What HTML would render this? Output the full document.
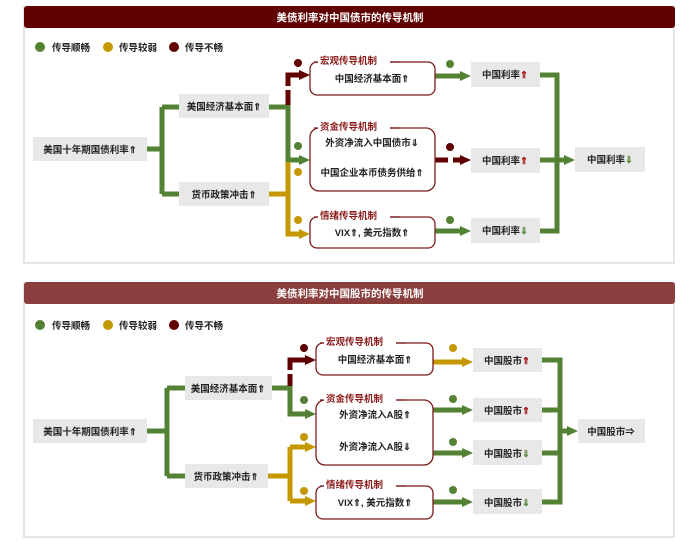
<!DOCTYPE html>
<html><head><meta charset="utf-8"><style>
body{margin:0;background:#fff}
svg text{font-family:"Liberation Sans","Noto Sans CJK SC",sans-serif;font-size:9.5px;font-weight:bold;fill:#222}
</style></head><body>
<svg width="700" height="541" viewBox="0 0 700 541" xmlns="http://www.w3.org/2000/svg">
<defs>
<marker id="ag" markerWidth="12" markerHeight="10" refX="3" refY="5" orient="auto" markerUnits="userSpaceOnUse"><path d="M0,0L11,5L0,10z" fill="#548235"/></marker>
<marker id="ay" markerWidth="12" markerHeight="10" refX="3" refY="5" orient="auto" markerUnits="userSpaceOnUse"><path d="M0,0L11,5L0,10z" fill="#c49800"/></marker>
<marker id="ar" markerWidth="12" markerHeight="10" refX="3" refY="5" orient="auto" markerUnits="userSpaceOnUse"><path d="M0,0L11,5L0,10z" fill="#600000"/></marker>
</defs>
<g fill="none" stroke-width="5">
<rect x="24" y="7" width="650" height="256" fill="#fff" stroke="#ddd" stroke-width="1.5"/>
<rect x="24" y="283" width="650" height="254" fill="#fff" stroke="#ddd" stroke-width="1.5"/>
</g>
<rect x="24" y="6" width="651" height="22" rx="3" fill="#600000"/>
<rect x="24" y="282" width="651" height="22" rx="3" fill="#8b3e3e"/>
<text x="350" y="21" text-anchor="middle" style="fill:#fff;font-size:10.5px">美债利率对中国债市的传导机制</text>
<text x="350" y="297" text-anchor="middle" style="fill:#fff;font-size:10.5px">美债利率对中国股市的传导机制</text>
<g>
<circle cx="40" cy="47" r="5" fill="#548235"/><text x="52" y="51">传导顺畅</text>
<circle cx="108" cy="47" r="5" fill="#c49800"/><text x="119" y="51">传导较弱</text>
<circle cx="174" cy="47" r="5" fill="#600000"/><text x="185" y="51">传导不畅</text>
<circle cx="40" cy="325" r="5" fill="#548235"/><text x="52" y="329">传导顺畅</text>
<circle cx="108" cy="325" r="5" fill="#c49800"/><text x="119" y="329">传导较弱</text>
<circle cx="174" cy="325" r="5" fill="#600000"/><text x="185" y="329">传导不畅</text>
</g>
<!-- ===== Panel 1 ===== -->
<g fill="none" stroke-width="5" stroke-linejoin="miter">
<path d="M147,149H162M162,107V194M162,107H180M162,194H180" stroke="#548235"/>
<path d="M269,107H288V160H302" stroke="#548235" marker-end="url(#ag)"/>
<path d="M288,105V90M288,86V75H302" stroke="#600000" marker-end="url(#ar)"/>
<path d="M269,194H288V234H302" stroke="#c49800" marker-end="url(#ay)"/>
<path d="M288,194V162" stroke="#c49800"/>
<path d="M435,76H463" stroke="#548235" marker-end="url(#ag)"/>
<path d="M435,160H448M453,160H463" stroke="#600000" marker-end="url(#ar)"/>
<path d="M435,231H463" stroke="#548235" marker-end="url(#ag)"/>
<path d="M540,75H557V231H540M540,160H567" stroke="#548235" marker-end="url(#ag)"/>
</g>
<g fill="#e8e8e8">
<rect x="33" y="137" width="114" height="24"/>
<rect x="179" y="94" width="90" height="24"/>
<rect x="179" y="182" width="90" height="24"/>
<rect x="471" y="62" width="69" height="25"/>
<rect x="471" y="148" width="69" height="25"/>
<rect x="471" y="218" width="69" height="25"/>
<rect x="575" y="147" width="70" height="25"/>
</g>
<g fill="#fff" stroke="#7a1a1a" stroke-width="1.3">
<rect x="310" y="62" width="125" height="33" rx="7"/>
<rect x="310" y="128" width="125" height="63" rx="9"/>
<rect x="310" y="217" width="125" height="31" rx="7"/>
</g>
<g fill="#fff"><rect x="318" y="56" width="72" height="10"/><rect x="318" y="122" width="72" height="10"/><rect x="318" y="211" width="72" height="10"/></g>
<g stroke="#7a1a1a" stroke-width="1.3"><path d="M314,62H318M390,62H400M314,128H318M390,128H400M314,217H318M390,217H400"/></g>
<text x="320" y="64" style="fill:#8b1a1a">宏观传导机制</text><text x="320" y="130" style="fill:#8b1a1a">资金传导机制</text><text x="320" y="219" style="fill:#8b1a1a">情绪传导机制</text>
<circle cx="298" cy="63" r="4" fill="#600000"/><circle cx="298" cy="146" r="4" fill="#548235"/><circle cx="298" cy="172" r="4" fill="#c49800"/><circle cx="298" cy="220" r="4" fill="#c49800"/>
<circle cx="450" cy="64" r="4" fill="#548235"/><circle cx="450" cy="147" r="4" fill="#600000"/><circle cx="450" cy="220" r="4" fill="#548235"/>
<text x="90" y="153" text-anchor="middle">美国十年期国债利率⇑</text>
<text x="224" y="110" text-anchor="middle">美国经济基本面⇑</text>
<text x="224" y="198" text-anchor="middle">货币政策冲击⇑</text>
<text x="372" y="82" text-anchor="middle">中国经济基本面⇑</text>
<text x="372" y="146" text-anchor="middle">外资净流入中国债市⇓</text>
<text x="372" y="176" text-anchor="middle">中国企业本币债务供给⇑</text>
<text x="372" y="236" text-anchor="middle">VIX⇑, 美元指数⇑</text>
<text x="505" y="78" text-anchor="middle">中国利率<tspan style="fill:#a00000">⇑</tspan></text>
<text x="505" y="164" text-anchor="middle">中国利率<tspan style="fill:#a00000">⇑</tspan></text>
<text x="505" y="234" text-anchor="middle">中国利率<tspan style="fill:#548235">⇓</tspan></text>
<text x="610" y="163" text-anchor="middle">中国利率<tspan style="fill:#548235">⇓</tspan></text>
<!-- ===== Panel 2 ===== -->
<g fill="none" stroke-width="5">
<path d="M147,431H167M167,388V476M167,388H185M167,476H185" stroke="#548235"/>
<path d="M272,388H290V414H308" stroke="#548235" marker-end="url(#ag)"/>
<path d="M290,386V374M290,370V360H308" stroke="#600000" marker-end="url(#ar)"/>
<path d="M268,476H290M290,447V501" stroke="#c49800"/>
<path d="M290,447H308" stroke="#c49800" marker-end="url(#ay)"/>
<path d="M290,501H308" stroke="#c49800" marker-end="url(#ay)"/>
<path d="M433,362H465" stroke="#c49800" marker-end="url(#ay)"/>
<path d="M433,410H465" stroke="#548235" marker-end="url(#ag)"/>
<path d="M433,453H465" stroke="#548235" marker-end="url(#ag)"/>
<path d="M433,502H465" stroke="#548235" marker-end="url(#ag)"/>
<path d="M542,360H560V502H542M542,410H560M542,453H560M560,431H570" stroke="#548235" marker-end="url(#ag)"/>
</g>
<g fill="#e8e8e8">
<rect x="33" y="419" width="114" height="24"/>
<rect x="185" y="376" width="87" height="24"/>
<rect x="185" y="464" width="83" height="24"/>
<rect x="473" y="348" width="69" height="24"/>
<rect x="473" y="398" width="69" height="24"/>
<rect x="473" y="440" width="69" height="25"/>
<rect x="473" y="489" width="69" height="25"/>
<rect x="578" y="419" width="67" height="24"/>
</g>
<g fill="#fff" stroke="#7a1a1a" stroke-width="1.3">
<rect x="316" y="343" width="117" height="32" rx="7"/>
<rect x="316" y="400" width="117" height="65" rx="9"/>
<rect x="316" y="486" width="117" height="33" rx="7"/>
</g>
<g fill="#fff"><rect x="324" y="337" width="72" height="10"/><rect x="324" y="394" width="72" height="10"/><rect x="324" y="480" width="72" height="10"/></g>
<g stroke="#7a1a1a" stroke-width="1.3"><path d="M320,343H324M396,343H406M320,400H324M396,400H406M320,486H324M396,486H406"/></g>
<text x="326" y="345" style="fill:#8b1a1a">宏观传导机制</text><text x="326" y="402" style="fill:#8b1a1a">资金传导机制</text><text x="326" y="488" style="fill:#8b1a1a">情绪传导机制</text>
<circle cx="304" cy="348" r="4" fill="#600000"/><circle cx="304" cy="400" r="4" fill="#548235"/><circle cx="304" cy="437" r="4" fill="#c49800"/><circle cx="304" cy="491" r="4" fill="#c49800"/>
<circle cx="453" cy="348" r="4" fill="#c49800"/><circle cx="453" cy="399" r="4" fill="#548235"/><circle cx="453" cy="442" r="4" fill="#548235"/><circle cx="453" cy="490" r="4" fill="#548235"/>
<text x="90" y="435" text-anchor="middle">美国十年期国债利率⇑</text>
<text x="228" y="392" text-anchor="middle">美国经济基本面⇑</text>
<text x="226" y="480" text-anchor="middle">货币政策冲击⇑</text>
<text x="375" y="363" text-anchor="middle">中国经济基本面⇑</text>
<text x="375" y="418" text-anchor="middle">外资净流入A股⇑</text>
<text x="375" y="450" text-anchor="middle">外资净流入A股⇓</text>
<text x="375" y="506" text-anchor="middle">VIX⇑, 美元指数⇑</text>
<text x="507" y="364" text-anchor="middle">中国股市<tspan style="fill:#a00000">⇑</tspan></text>
<text x="507" y="414" text-anchor="middle">中国股市<tspan style="fill:#a00000">⇑</tspan></text>
<text x="507" y="457" text-anchor="middle">中国股市<tspan style="fill:#548235">⇓</tspan></text>
<text x="507" y="506" text-anchor="middle">中国股市<tspan style="fill:#548235">⇓</tspan></text>
<text x="611" y="435" text-anchor="middle">中国股市⇒</text>
</svg>
</body></html>
